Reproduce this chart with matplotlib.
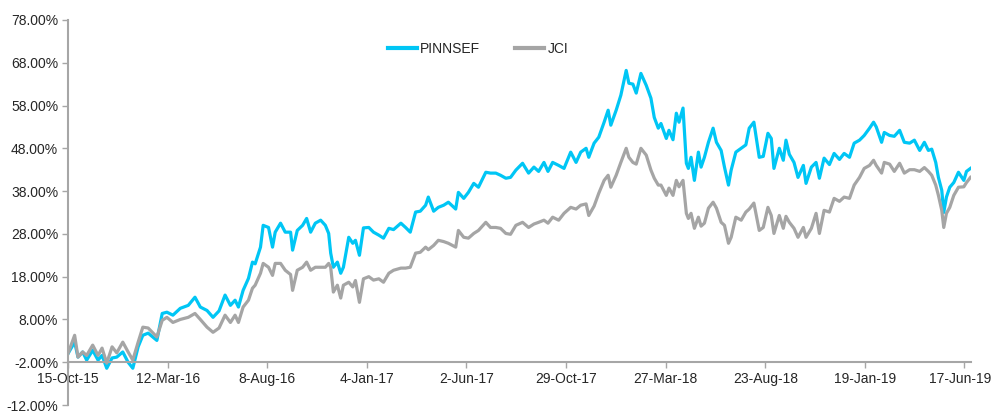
import matplotlib
matplotlib.use("Agg")
import matplotlib.pyplot as plt
import matplotlib.dates as mdates
import matplotlib.transforms as mtransforms
import pandas as pd
from matplotlib.ticker import FixedLocator, FuncFormatter

# ---------------- data ----------------
dates = [
    "2015-10-15", "2015-10-25", "2015-10-30", "2015-11-06", "2015-11-12", "2015-11-21",
    "2015-11-29", "2015-12-05", "2015-12-12", "2015-12-20", "2015-12-27", "2016-01-05",
    "2016-01-13", "2016-01-20", "2016-01-28", "2016-02-04", "2016-02-12", "2016-02-25",
    "2016-03-04", "2016-03-11", "2016-03-20", "2016-03-31", "2016-04-12", "2016-04-22",
    "2016-04-30", "2016-05-10", "2016-05-19", "2016-05-28", "2016-06-06", "2016-06-14",
    "2016-06-21", "2016-06-26", "2016-07-03", "2016-07-11", "2016-07-17", "2016-07-21",
    "2016-07-29", "2016-08-02", "2016-08-10", "2016-08-16", "2016-08-20", "2016-08-28",
    "2016-09-04", "2016-09-12", "2016-09-15", "2016-09-22", "2016-09-30", "2016-10-06",
    "2016-10-12", "2016-10-19", "2016-10-27", "2016-11-03", "2016-11-08", "2016-11-11",
    "2016-11-15", "2016-11-21", "2016-11-26", "2016-11-30", "2016-12-08", "2016-12-14",
    "2016-12-18", "2016-12-24", "2016-12-30", "2017-01-07", "2017-01-14", "2017-01-22",
    "2017-01-29", "2017-02-06", "2017-02-13", "2017-02-24", "2017-03-03", "2017-03-10",
    "2017-03-18", "2017-03-25", "2017-04-02", "2017-04-06", "2017-04-14", "2017-04-21",
    "2017-04-29", "2017-05-06", "2017-05-17", "2017-05-21", "2017-05-29", "2017-06-05",
    "2017-06-13", "2017-06-20", "2017-07-01", "2017-07-08", "2017-07-16", "2017-07-23",
    "2017-07-31", "2017-08-07", "2017-08-15", "2017-08-25", "2017-09-03", "2017-09-11",
    "2017-09-18", "2017-09-26", "2017-10-02", "2017-10-09", "2017-10-18", "2017-10-26",
    "2017-11-05", "2017-11-13", "2017-11-20", "2017-11-28", "2017-12-02", "2017-12-10",
    "2017-12-17", "2017-12-25", "2017-12-31", "2018-01-04", "2018-01-12", "2018-01-19",
    "2018-01-27", "2018-01-31", "2018-02-06", "2018-02-11", "2018-02-18", "2018-02-26",
    "2018-03-05", "2018-03-10", "2018-03-16", "2018-03-20", "2018-03-28", "2018-04-01",
    "2018-04-07", "2018-04-12", "2018-04-16", "2018-04-22", "2018-04-27", "2018-04-30",
    "2018-05-04", "2018-05-09", "2018-05-15", "2018-05-19", "2018-05-24", "2018-05-30",
    "2018-06-06", "2018-06-11", "2018-06-18", "2018-06-23", "2018-06-29", "2018-07-03",
    "2018-07-10", "2018-07-18", "2018-07-25", "2018-07-30", "2018-08-06", "2018-08-14",
    "2018-08-20", "2018-08-27", "2018-09-01", "2018-09-05", "2018-09-13", "2018-09-19",
    "2018-09-23", "2018-09-28", "2018-10-05", "2018-10-11", "2018-10-19", "2018-10-23",
    "2018-10-31", "2018-11-07", "2018-11-12", "2018-11-19", "2018-11-27", "2018-12-04",
    "2018-12-12", "2018-12-19", "2018-12-27", "2019-01-03", "2019-01-11", "2019-01-18",
    "2019-01-26", "2019-02-01", "2019-02-05", "2019-02-13", "2019-02-17", "2019-02-25",
    "2019-03-04", "2019-03-12", "2019-03-19", "2019-03-27", "2019-04-03", "2019-04-11",
    "2019-04-18", "2019-04-24", "2019-04-29", "2019-05-05", "2019-05-09", "2019-05-14",
    "2019-05-17", "2019-05-21", "2019-05-26", "2019-06-01", "2019-06-08", "2019-06-16",
    "2019-06-20", "2019-06-26",
]

pinnsef = [
    0.0, 2.7, -0.8, 0.4, -1.5, 0.8,
    -1.5, -0.4, -3.4, -1.0, -0.8, 0.4,
    -2.0, -3.4, 1.6, 4.3, 4.8, 3.1,
    9.4, 9.7, 9.0, 10.6, 11.3, 13.2,
    10.9, 10.1, 8.5, 10.0, 13.7, 11.3,
    12.5, 10.9, 14.8, 17.6, 21.4, 21.0,
    24.9, 30.0, 29.5, 24.9, 28.4, 30.5,
    28.4, 28.4, 24.2, 28.8, 30.0, 31.6,
    28.4, 30.5, 31.2, 30.0, 28.1, 23.5,
    20.2, 21.4, 18.8, 20.2, 27.2, 25.8,
    26.5, 23.0, 29.4, 29.5, 28.4, 27.7,
    27.0, 29.3, 29.0, 30.5, 29.5, 28.4,
    33.1, 33.3, 34.7, 36.6, 33.3, 34.2,
    34.7, 35.4, 33.8, 37.7, 36.3, 37.7,
    39.8, 38.9, 42.4, 42.2, 42.2, 41.7,
    41.0, 41.2, 42.9, 44.5, 42.2, 43.6,
    42.6, 44.7, 42.6, 44.7, 44.0, 43.3,
    47.1, 44.7, 47.1, 48.0, 45.9, 49.2,
    50.6, 54.1, 56.9, 53.4, 56.9, 60.4,
    66.2, 63.2, 63.0, 60.9, 65.5, 62.7,
    59.7, 55.2, 52.7, 53.8, 50.3, 52.2,
    50.0, 56.2, 54.1, 57.4, 44.5, 43.3,
    45.9, 40.5, 47.1, 43.6, 45.9, 49.4,
    52.7, 49.4, 47.5, 43.6, 39.4, 42.9,
    47.1, 48.0, 48.8, 52.7, 54.1, 45.9,
    46.1, 51.5, 50.3, 43.3, 48.0, 45.2,
    49.9, 46.6, 44.7, 41.2, 44.0, 39.8,
    43.6, 44.7, 41.0, 45.7, 44.2, 46.8,
    45.4, 46.8, 45.9, 49.2, 49.9, 51.0,
    52.7, 54.1, 53.0, 49.4, 51.7, 51.0,
    50.8, 52.2, 49.4, 49.2, 49.9, 47.5,
    49.4, 47.5, 47.8, 44.7, 41.2, 38.2,
    33.0, 36.6, 38.9, 40.0, 42.4, 40.5,
    42.6, 43.3,
]

jci = [
    0.0, 4.3, -0.8, 0.4, -0.4, 2.0,
    -0.4, 1.3, -2.2, 1.6, 0.2, 2.7,
    0.4, -1.5, 2.7, 6.2, 6.0, 3.9,
    7.8, 8.5, 7.3, 8.0, 8.5, 9.4,
    8.0, 6.2, 5.0, 6.0, 9.0, 7.3,
    9.0, 7.3, 10.9, 12.5, 15.3, 16.0,
    18.8, 21.1, 20.2, 18.3, 21.1, 21.1,
    19.5, 18.5, 14.8, 19.5, 20.2, 21.4,
    19.5, 20.2, 20.2, 20.2, 21.1, 20.2,
    14.4, 16.0, 13.0, 16.0, 16.7, 15.6,
    17.1, 12.0, 17.5, 18.0, 17.2, 17.5,
    16.7, 18.8, 19.5, 20.0, 20.0, 20.2,
    23.5, 23.7, 24.9, 24.3, 25.3, 26.5,
    26.2, 25.8, 24.9, 28.8, 27.2, 27.0,
    28.1, 28.8, 30.7, 29.5, 29.5, 29.3,
    28.1, 27.9, 30.0, 30.7, 29.5, 30.3,
    30.7, 31.2, 30.5, 31.9, 31.2, 32.8,
    34.2, 33.8, 34.7, 35.0, 32.3, 34.5,
    37.5, 40.5, 41.7, 38.9, 41.7, 44.7,
    48.0, 45.9, 44.7, 44.3, 48.0, 46.4,
    42.9, 41.0, 39.4, 39.4, 37.0, 38.7,
    37.0, 40.5, 39.0, 40.5, 32.8, 31.6,
    32.8, 29.3, 31.9, 29.8, 30.5, 34.0,
    35.4, 34.0, 30.7, 30.0, 25.8, 27.2,
    31.9, 31.2, 33.1, 33.8, 35.2, 28.8,
    29.5, 34.2, 32.3, 28.1, 32.3, 29.3,
    32.1, 30.7, 29.3, 27.2, 29.5, 27.2,
    29.3, 32.8, 28.1, 33.5, 33.1, 36.3,
    35.6, 36.6, 36.3, 39.4, 41.2, 43.3,
    44.0, 45.2, 44.0, 42.2, 44.7, 44.3,
    42.6, 44.5, 42.2, 43.0, 43.0, 42.6,
    43.5, 42.6, 41.7, 39.4, 37.0, 33.5,
    29.5, 32.8, 34.2, 37.0, 38.9, 39.0,
    40.0, 41.2,
]

series_names = ["PINNSEF", "JCI"]
x_tick_labels = ["15-Oct-15", "12-Mar-16", "8-Aug-16", "4-Jan-17", "2-Jun-17",
                 "29-Oct-17", "27-Mar-18", "23-Aug-18", "19-Jan-19", "17-Jun-19"]
y_ticks = [-12, -2, 8, 18, 28, 38, 48, 58, 68, 78]

# ---------------- drawing ----------------
BLUE = "#00C6F5"
GRAY = "#A5A5A5"
AXIS = "#A6A6A6"

plt.rcParams["font.family"] = ["Liberation Sans", "DejaVu Sans"]

fig = plt.figure(figsize=(9.92, 4.15), dpi=100)
ax = fig.add_axes([0.0685, 0.024, 0.9105, 0.928])

d = pd.to_datetime(dates)
ax.plot(d, pinnsef, color=BLUE, lw=2.3, label=series_names[0], solid_joinstyle="round")
ax.plot(d, jci, color=GRAY, lw=2.3, label=series_names[1], solid_joinstyle="round")

ax.set_ylim(-12, 78)
ax.set_xlim(pd.Timestamp("2015-10-15"), pd.Timestamp("2019-06-27"))

ax.yaxis.set_major_locator(FixedLocator(y_ticks))
ax.yaxis.set_major_formatter(FuncFormatter(lambda v, p: f"{v:.2f}%"))

tick_dates = pd.to_datetime(x_tick_labels, format="%d-%b-%y")
ax.set_xticks(mdates.date2num(tick_dates))
ax.set_xticklabels(x_tick_labels)

for s in ["top", "right"]:
    ax.spines[s].set_visible(False)
ax.spines["bottom"].set_position(("data", -2))
for s in ["left", "bottom"]:
    ax.spines[s].set_color(AXIS)
    ax.spines[s].set_linewidth(1.5)

ax.tick_params(axis="y", direction="out", length=4, width=1, color=AXIS,
               labelsize=10, labelcolor="#262626", pad=3)
ax.tick_params(axis="x", direction="out", length=4, width=1, color=AXIS,
               labelsize=10, labelcolor="#262626", pad=3)

# nudge the last date label slightly left so it stays inside the figure
last = ax.get_xticklabels()[-1]
last.set_transform(last.get_transform() +
                   mtransforms.ScaledTranslation(-3 / 72, 0, fig.dpi_scale_trans))

leg = ax.legend(loc="center", bbox_to_anchor=(0.454, 0.925), ncol=2, frameon=False,
                fontsize=10, handlelength=2.1, columnspacing=2.5, handletextpad=0.25)
for t in leg.get_texts():
    t.set_color("#262626")
for h in leg.get_lines():
    h.set_linewidth(3)

fig.savefig("out.png", dpi=100)
